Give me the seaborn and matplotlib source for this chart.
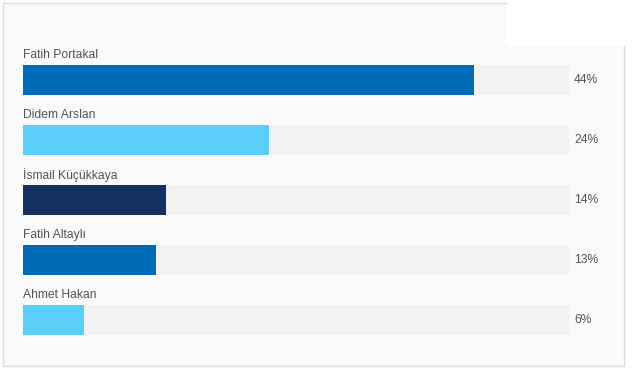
import matplotlib
matplotlib.use("Agg")
import matplotlib.pyplot as plt
import seaborn as sns
from matplotlib.patches import Rectangle

# poll results
names = ["Fatih Portakal", "Didem Arslan", "İsmail Küçükkaya", "Fatih Altaylı", "Ahmet Hakan"]
values = [44, 24, 14, 13, 6]
pct_labels = ["44%", "24%", "14%", "13%", "6%"]
bar_colors = ["#006bb6", "#5bcefa", "#14315f", "#006bb6", "#5bcefa"]
scale_max = 53.3

sns.set_style("white")
plt.rcParams["font.family"] = ["Liberation Sans", "DejaVu Sans"]

W, H = 632, 371
fig = plt.figure(figsize=(W / 100, H / 100), dpi=100)
fig.patch.set_facecolor("white")

# panel with border, white notch at top right
fig.patches.append(Rectangle((3 / W, 1 - 366 / H), 621 / W, 363 / H, transform=fig.transFigure,
                             facecolor="#fafafa", edgecolor="#dcdcdc", linewidth=1, zorder=0))
fig.patches.append(Rectangle((507 / W, 1 - 46 / H), 125 / W, 46 / H, transform=fig.transFigure,
                             facecolor="white", edgecolor="none", zorder=1))

ax = fig.add_axes([23 / W, 21 / H, 546 / W, 300 / H])
ax.set_facecolor("none")
ax.set_zorder(5)

sns.barplot(x=[scale_max] * len(names), y=names, color="#f2f2f2", saturation=1,
            width=0.5, linewidth=0, ax=ax)
sns.barplot(x=values, y=names, hue=names, palette=bar_colors, saturation=1,
            width=0.5, linewidth=0, legend=False, ax=ax)

ax.set_xlim(0, scale_max)
ax.set_ylim(len(names) - 0.5, -0.5)

for i, (n, p) in enumerate(zip(names, pct_labels)):
    ax.text(0, i - 0.42, n, ha="left", va="center", fontsize=8.7, color="#555555")
    ax.text(1 + 5 / 546, i, p, transform=ax.get_yaxis_transform(), ha="left", va="center",
            fontsize=8.7, color="#555555", clip_on=False)

ax.set_xlabel("")
ax.set_ylabel("")
ax.set_xticks([])
ax.set_yticks([])
sns.despine(ax=ax, left=True, bottom=True)

fig.savefig("out.png", dpi=100)
